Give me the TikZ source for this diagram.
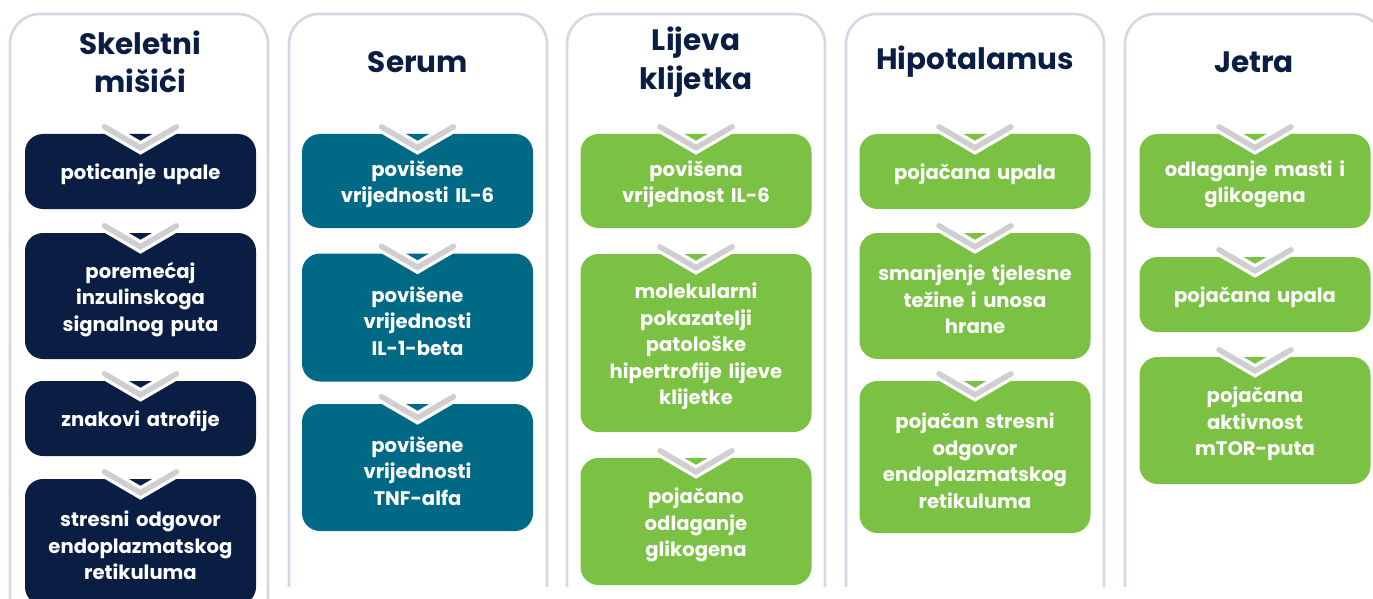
\documentclass[tikz,border=0pt]{standalone}
\usepackage{fontspec}
\setmainfont{Poppins}
\usepackage{tikz}

\definecolor{navy}{HTML}{0A1E44}
\definecolor{teal}{HTML}{006A86}
\definecolor{leaf}{HTML}{7BC143}
\definecolor{frame}{HTML}{D4D8E4}
\definecolor{chev}{HTML}{CFCFD1}
\newcommand{\cardsink}{\endgraf\vspace*{-7pt}}

\begin{document}
\begin{tikzpicture}[x=1pt, y=1pt,
  column/.style={line width=2.6pt, draw=frame, rounded corners=30pt},
  title/.style={text=navy, align=center, font=\fontsize{29.5}{38.5}\selectfont\bfseries},
  card/.style={rounded corners=18pt, minimum width=231pt, text width=225pt,
    align=center, inner sep=0pt, text=white,
    execute at end node=\cardsink,
    font=\fontsize{19.6}{26.5}\selectfont\bfseries},
  navycard/.style={card, fill=navy},
  tealcard/.style={card, fill=teal},
  leafcard/.style={card, fill=leaf},
  chevgap/.style={draw=white, line width=12pt, line cap=round, line join=miter},
  chevline/.style={draw=chev, line width=5.5pt, line cap=round, line join=miter}]
\useasboundingbox (0, 0) rectangle (1373, -599);

% column frames
\draw[column] (10, -610) -- (10, -14) -- (268, -14) -- (268, -610);
\draw[column] (289, -587) -- (289, -14) -- (547, -14) -- (547, -587);
\draw[column] (567, -587) -- (567, -14) -- (825, -14) -- (825, -587);
\draw[column] (846, -587) -- (846, -14) -- (1104, -14) -- (1104, -587);
\draw[column] (1125, -587) -- (1125, -14) -- (1383, -14) -- (1383, -587);

% titles
\node[title] (t1) at (140, -62) {Skeletni\\mišići};
\node[title] (t2) at (418, -62) {Serum};
\node[title] (t3) at (696, -62) {Lijeva\\klijetka};
\node[title] (t4) at (975, -62) {Hipotalamus};
\node[title] (t5) at (1254, -62) {Jetra};

% skeletal muscle
\node[navycard, minimum height=75] (s1) at (140.5, -171.5) {poticanje upale};
\node[navycard, minimum height=126] (s2) at (140.5, -296) {poremećaj\\inzulinskoga\\signalnog puta};
\node[navycard, minimum height=75] (s3) at (140.5, -418.5) {znakovi atrofije};
\node[navycard, minimum height=126] (s4) at (140.5, -542) {stresni odgovor\\endoplazmatskog\\retikuluma};

% serum
\node[tealcard, minimum height=94] (r1) at (417.5, -181) {povišene\\vrijednosti IL-6};
\node[tealcard, minimum height=128] (r2) at (417.5, -317.5) {povišene\\vrijednosti\\IL-1-beta};
\node[tealcard, minimum height=127] (r3) at (417.5, -467.5) {povišene\\vrijednosti\\TNF-alfa};

% left ventricle
\node[leafcard, minimum height=94] (v1) at (696, -181) {povišena\\vrijednost IL-6};
\node[leafcard, minimum height=178] (v2) at (696, -343) {molekularni\\pokazatelji\\patološke\\hipertrofije lijeve\\klijetke};
\node[leafcard, minimum height=127] (v3) at (696, -521.5) {pojačano\\odlaganje\\glikogena};

% hypothalamus
\node[leafcard, minimum height=75] (h1) at (975, -171.5) {pojačana upala};
\node[leafcard, minimum height=126] (h2) at (975, -296) {smanjenje tjelesne\\težine i unosa\\hrane};
\node[leafcard, minimum height=152] (h3) at (975, -457) {pojačan stresni\\odgovor\\endoplazmatskog\\retikuluma};

% liver
\node[leafcard, minimum height=94] (j1) at (1255, -181) {odlaganje masti i\\glikogena};
\node[leafcard, minimum height=75] (j2) at (1255, -294.5) {pojačana upala};
\node[leafcard, minimum height=127] (j3) at (1255, -420.5) {pojačana\\aktivnost\\mTOR-puta};

% chevrons
\foreach \c in {s1, s2, s3, s4, r1, r2, r3, v1, v2, v3, h1, h2, h3, j1, j2, j3} {
  \draw[chevgap] (\c.north) ++(-36, 7) -- ++(36, -21) -- ++(36, 21);
  \draw[chevline] (\c.north) ++(-36, 7) -- ++(36, -21) -- ++(36, 21);
}
\end{tikzpicture}
\end{document}
